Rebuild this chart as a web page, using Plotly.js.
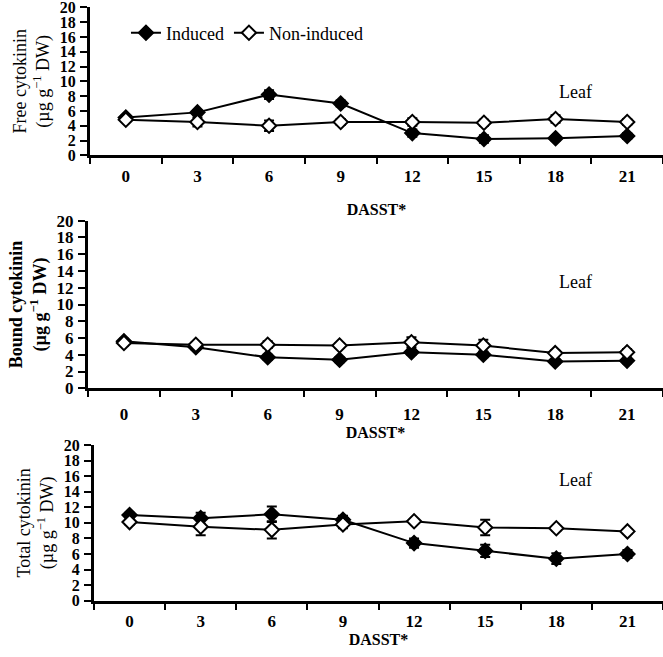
<!DOCTYPE html>
<html>
<head>
<meta charset="utf-8">
<script src="https://cdn.plot.ly/plotly-3.0.1.min.js"></script>
<style>html,body{margin:0;padding:0;background:#fff;}#chart{width:663px;height:657px;}</style>
</head>
<body>
<div id="chart"></div>
<script>
// Days after start of shading treatment (categories)
const days = ['0', '3', '6', '9', '12', '15', '18', '21'];

// Free cytokinin (µg g-1 DW)
const freeInduced = [5.1, 5.8, 8.2, 7.0, 3.0, 2.2, 2.3, 2.6];
const freeInducedErr = [0.3, 0.3, 0.6, 0.4, 0.5, 0.5, 0.3, 0.4];
const freeNon = [4.8, 4.5, 4.0, 4.5, 4.5, 4.4, 4.9, 4.5];
const freeNonErr = [0.3, 0.6, 0.7, 0.4, 0.5, 0.4, 0.5, 0.4];

// Bound cytokinin
const boundInduced = [5.6, 4.9, 3.7, 3.4, 4.3, 4.0, 3.2, 3.3];
const boundInducedErr = [0.3, 0.3, 0.3, 0.3, 0.3, 0.3, 0.3, 0.3];
const boundNon = [5.4, 5.2, 5.2, 5.1, 5.5, 5.1, 4.2, 4.3];
const boundNonErr = [0.3, 0.3, 0.4, 0.3, 0.6, 0.7, 0.3, 0.4];

// Total cytokinin
const totalInduced = [11.0, 10.6, 11.1, 10.4, 7.4, 6.4, 5.4, 6.0];
const totalInducedErr = [0.3, 0.7, 1.0, 0.5, 0.6, 0.8, 0.7, 0.5];
const totalNon = [10.1, 9.5, 9.1, 9.8, 10.2, 9.4, 9.3, 8.9];
const totalNonErr = [0.3, 1.1, 1.1, 0.5, 0.3, 1.0, 0.3, 0.3];

const seriesNames = ['Induced', 'Non-induced'];
const yTitles = ['Free cytokinin<br>(µg g<sup>−1</sup> DW)', 'Bound cytokinin<br>(µg g<sup>−1</sup> DW)', 'Total cytokinin<br>(µg g<sup>−1</sup> DW)'];
const xTitle = 'DASST*';
const panelLabel = 'Leaf';

const SERIF = 'Liberation Serif';

function mk(y, err, filled, idx, showLegend) {
  const ax = idx === 0 ? '' : String(idx + 1);
  return {
    x: days, y: y, type: 'scatter', mode: 'lines+markers',
    name: filled ? seriesNames[0] : seriesNames[1],
    legendgroup: filled ? 'ind' : 'non',
    showlegend: showLegend,
    xaxis: 'x' + ax, yaxis: 'y' + ax,
    line: {color: '#000', width: 2},
    marker: {symbol: 'diamond', size: 11, color: filled ? '#000' : '#fff', line: {color: '#000', width: 2}},
    error_y: {type: 'data', array: err, visible: true, color: '#000', thickness: 2, width: 5}
  };
}

const data = [
  mk(freeInduced, freeInducedErr, true, 0, true),
  mk(freeNon, freeNonErr, false, 0, true),
  mk(boundInduced, boundInducedErr, true, 1, false),
  mk(boundNon, boundNonErr, false, 1, false),
  mk(totalInduced, totalInducedErr, true, 2, false),
  mk(totalNon, totalNonErr, false, 2, false)
];

const H = 657, W = 663;
function yd(top, bot) { return [1 - bot / H, 1 - top / H]; }

function xaxis(left, anchor, labelStand, titleStand) {
  return {
    domain: [left / W, 1], anchor: anchor, type: 'category', range: [-0.5, 7.5],
    tickson: 'boundaries', ticks: 'outside', ticklen: 6, tickwidth: 2, tickcolor: '#000',
    showline: true, linewidth: 3, linecolor: '#000', showgrid: false, zeroline: false,
    ticklabelstandoff: labelStand,
    tickfont: {family: SERIF, size: 17, color: '#000', weight: 'bold'},
    title: {text: xTitle, font: {family: SERIF, size: 16, color: '#000', weight: 'bold'}, standoff: titleStand}
  };
}
function yaxis(dom, anchor, title, bold, fs) {
  return {
    domain: dom, anchor: anchor, range: [0, 20], dtick: 2, tick0: 0,
    ticks: 'outside', ticklen: 7, tickwidth: 2, tickcolor: '#000',
    showline: true, linewidth: 3, linecolor: '#000', showgrid: false, zeroline: false,
    ticklabelstandoff: 1, ticklabeloverflow: 'allow',
    tickfont: {family: SERIF, size: fs, color: '#000', weight: 'bold'},
    title: {text: title, font: {family: SERIF, size: 18, color: '#000', weight: bold ? 'bold' : 'normal'}, standoff: 6}
  };
}

const layout = {
  width: W, height: H,
  margin: {l: 0, r: 0, t: 0, b: 0},
  paper_bgcolor: '#fff', plot_bgcolor: '#fff',
  font: {family: SERIF, color: '#000'},
  xaxis: xaxis(90, 'y', 3, 20),
  yaxis: yaxis(yd(7.3, 155.3), 'x', yTitles[0], false, 16),
  xaxis2: xaxis(88, 'y2', 8, 2),
  yaxis2: yaxis(yd(220.7, 388.3), 'x2', yTitles[1], true, 17),
  xaxis3: xaxis(94, 'y3', 3, 4),
  yaxis3: yaxis(yd(445, 600.7), 'x3', yTitles[2], false, 16),
  showlegend: true,
  legend: {
    orientation: 'h', x: 0.19, y: 1 - 33 / H, xanchor: 'left', yanchor: 'middle',
    font: {family: SERIF, size: 18, color: '#000'}, bgcolor: 'rgba(0,0,0,0)',
    itemwidth: 30, traceorder: 'normal', tracegroupgap: 0, borderwidth: 0
  },
  annotations: [
    {text: panelLabel, xref: 'paper', yref: 'paper', x: 594 / W, y: 1 - 80 / H, showarrow: false, font: {family: SERIF, size: 18, color: '#000'}},
    {text: panelLabel, xref: 'paper', yref: 'paper', x: 594 / W, y: 1 - 282 / H, showarrow: false, font: {family: SERIF, size: 18, color: '#000'}},
    {text: panelLabel, xref: 'paper', yref: 'paper', x: 594 / W, y: 1 - 492 / H, showarrow: false, font: {family: SERIF, size: 18, color: '#000'}}
  ]
};

Plotly.newPlot('chart', data, layout, {displayModeBar: false, staticPlot: true});
</script>
</body>
</html>
